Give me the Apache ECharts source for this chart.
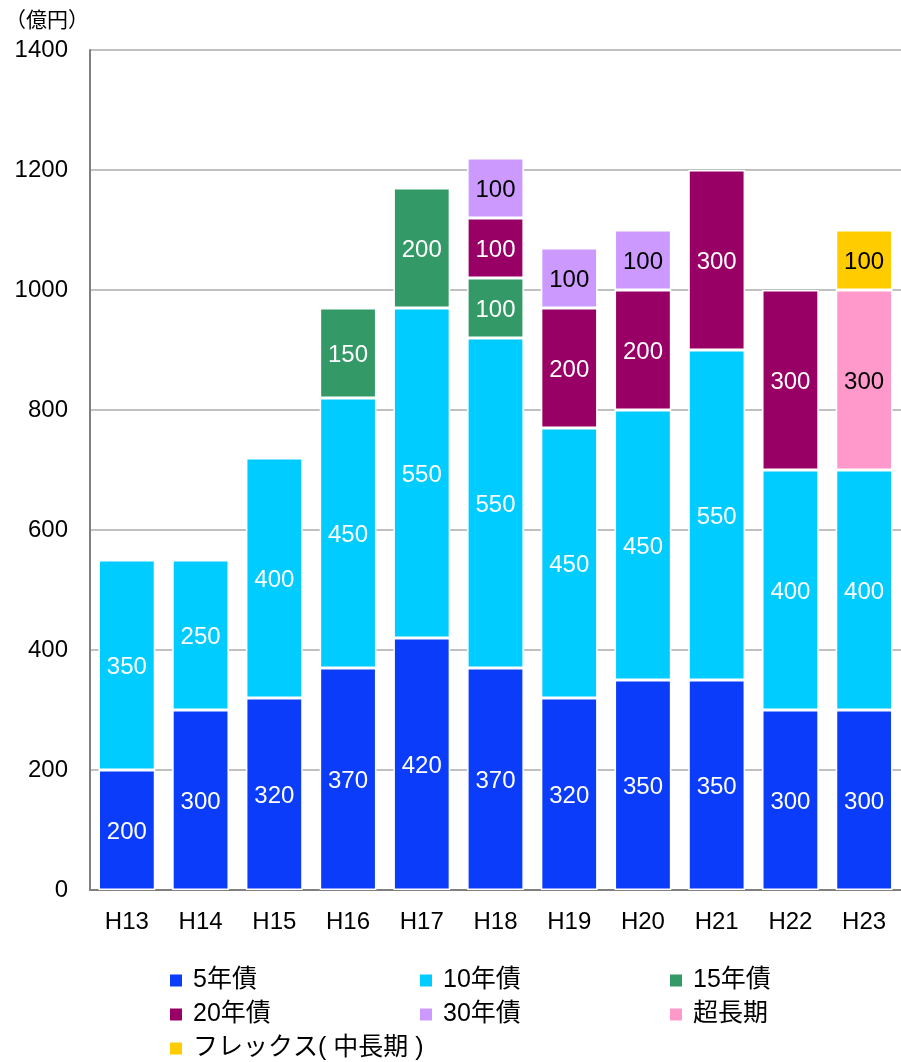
<!DOCTYPE html>
<html><head><meta charset="utf-8">
<script src="https://cdn.jsdelivr.net/npm/echarts@6/dist/echarts.min.js"></script>
<style>html,body{margin:0;padding:0;background:#fff}#c{width:901px;height:1062px}</style>
</head><body><div id="c"></div>
<script>
const categories = ['H13','H14','H15','H16','H17','H18','H19','H20','H21','H22','H23'];
const seriesNames = ['5年債','10年債','15年債','20年債','30年債','超長期','フレックス( 中長期 )'];
const s5 = [200,300,320,370,420,370,320,350,350,300,300];
const s10 = [350,250,400,450,550,550,450,450,550,400,400];
const s15 = [null,null,null,150,200,100,null,null,null,null,null];
const s20 = [null,null,null,null,null,100,200,200,300,300,null];
const s30 = [null,null,null,null,null,100,100,100,null,null,null];
const sChou = [null,null,null,null,null,null,null,null,null,null,300];
const sFlex = [null,null,null,null,null,null,null,null,null,null,100];
const yTicks = [0,200,400,600,800,1000,1200,1400];

const colors = ['#0a3cfa','#00ccff','#339966','#990066','#cc99ff','#ff99cc','#ffcc00'];
const labelColors = ['#fff','#fff','#fff','#fff','#000','#000','#000'];
const dataSets = [s5,s10,s15,s20,s30,sChou,sFlex];
const FONT = 'Arial, "Liberation Sans", "Noto Sans CJK JP", sans-serif';

const series = seriesNames.map((n,i)=>({
  name:n, type:'bar', stack:'t', data:dataSets[i], barWidth:'77%',
  itemStyle:{color:colors[i], borderColor:'#fff', borderWidth:1.5},
  label:{show:true, position:'inside', offset:[0,2], color:labelColors[i], fontSize:24, fontFamily:FONT},
  emphasis:{disabled:true}
}));

const legendCommon = {orient:'vertical', itemWidth:14, itemHeight:14, itemGap:9, icon:'rect', height:120,
  textStyle:{fontSize:25, color:'#000', fontFamily:FONT, padding:[0,0,0,5]}, selectedMode:false};

const chart = echarts.init(document.getElementById('c'), null, {renderer:'canvas'});
chart.setOption({
  animation:false,
  color:colors,
  title:{text:'（億円）', left:0, top:6, textStyle:{fontSize:21, fontWeight:'normal', color:'#000', fontFamily:FONT}},
  grid:{left:90, right:0, top:50, bottom:172},
  legend:[
    Object.assign({left:163, top:963, data:[seriesNames[0],seriesNames[3],seriesNames[6]]}, legendCommon),
    Object.assign({left:413, top:963, data:[seriesNames[1],seriesNames[4]]}, legendCommon),
    Object.assign({left:663, top:963, data:[seriesNames[2],seriesNames[5]]}, legendCommon)
  ],
  xAxis:{type:'category', data:categories,
    axisLine:{lineStyle:{color:'#808080', width:2}}, axisTick:{show:false},
    axisLabel:{fontSize:24, color:'#000', margin:20, fontFamily:FONT}},
  yAxis:{type:'value', min:0, max:1400, interval:200,
    axisLine:{show:true, lineStyle:{color:'#808080', width:2}}, axisTick:{show:false},
    splitLine:{lineStyle:{color:'#c0c0c0', width:2}},
    axisLabel:{fontSize:24, color:'#000', margin:22, fontFamily:FONT,
      formatter:v=>yTicks.includes(v)?String(v):''}},
  series:series
});
</script></body></html>
